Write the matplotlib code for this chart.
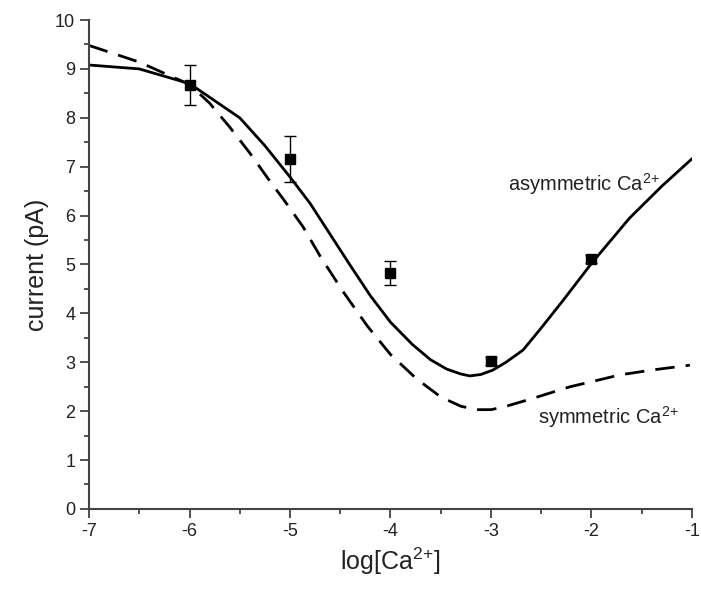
import matplotlib
matplotlib.use("Agg")
import matplotlib.pyplot as plt
from matplotlib.ticker import MultipleLocator

plt.rcParams['font.family'] = ['Liberation Sans', 'DejaVu Sans']
plt.rcParams['mathtext.fontset'] = 'custom'
plt.rcParams['mathtext.rm'] = 'Liberation Sans'
plt.rcParams['mathtext.it'] = 'Liberation Sans'
plt.rcParams['axes.unicode_minus'] = False

# measured points
x_pts = [-6, -5, -4, -3, -2]
y_pts = [8.68, 7.15, 4.83, 3.02, 5.12]
y_err = [0.41, 0.47, 0.24, 0.08, 0.08]

# asymmetric Ca2+ fit (solid)
x_asym = [-7, -6.5, -6, -5.5, -5.25, -5.0, -4.8, -4.63, -4.4, -4.2, -4.0, -3.78, -3.6,
          -3.44, -3.3, -3.21, -3.1, -2.98, -2.85, -2.68, -2.5, -2.28, -2.0, -1.62, -1.3, -1.0]
y_asym = [9.08, 9.0, 8.7, 8.0, 7.43, 6.79, 6.25, 5.71, 4.98, 4.36, 3.82, 3.36, 3.05,
          2.86, 2.76, 2.72, 2.75, 2.84, 3.0, 3.25, 3.7, 4.27, 5.02, 5.95, 6.6, 7.16]

# symmetric Ca2+ fit (dashed)
x_sym = [-7, -6.5, -6, -5.8, -5.6, -5.4, -5.23, -5.05, -4.87, -4.7, -4.47, -4.23, -4.0, -3.74,
         -3.5, -3.3, -3.14, -3.0, -2.88, -2.6, -2.21, -1.9, -1.72, -1.4, -1.02]
y_sym = [9.48, 9.14, 8.68, 8.3, 7.81, 7.28, 6.79, 6.29, 5.77, 5.17, 4.44, 3.74, 3.16, 2.66,
         2.29, 2.1, 2.03, 2.03, 2.08, 2.25, 2.5, 2.65, 2.74, 2.84, 2.94]

fig = plt.figure(figsize=(7.01, 5.89), dpi=100)
ax = fig.add_axes([0.127, 0.136, 0.86, 0.83])

ax.plot(x_asym, y_asym, color='black', lw=2)
ax.plot(x_sym, y_sym, color='black', lw=2, dashes=(7, 4))
ax.errorbar(x_pts, y_pts, yerr=y_err, fmt='s', color='black', ms=7,
            capsize=4, elinewidth=1, capthick=1)

ax.text(-2.83, 6.65, r'asymmetric Ca$^{2{+}}$', fontsize=14.5, va='center', color='#222222')
ax.text(-2.53, 1.88, r'symmetric Ca$^{2{+}}$', fontsize=14.5, va='center', color='#222222')

ax.set_xlim(-7, -1)
ax.set_ylim(0, 10)
ax.xaxis.set_major_locator(MultipleLocator(1))
ax.xaxis.set_minor_locator(MultipleLocator(0.5))
ax.yaxis.set_major_locator(MultipleLocator(1))
ax.yaxis.set_minor_locator(MultipleLocator(0.5))
ax.tick_params(which='major', direction='out', length=6.5, width=1.2, labelsize=13,
               color='#333333', labelcolor='#222222')
ax.tick_params(which='minor', direction='out', length=3.5, width=1.2, color='#333333')
ax.tick_params(axis='x', which='both', top=False)
ax.tick_params(axis='y', which='both', right=False)

for s in ['top', 'right']:
    ax.spines[s].set_visible(False)
for s in ['left', 'bottom']:
    ax.spines[s].set_linewidth(1.5)
    ax.spines[s].set_color('#444444')

ax.set_xlabel(r'log[Ca$^{2{+}}$]', fontsize=18, color='#222222')
ax.set_ylabel('current (pA)', fontsize=18, color='#222222')

fig.savefig('out.png', dpi=100)
